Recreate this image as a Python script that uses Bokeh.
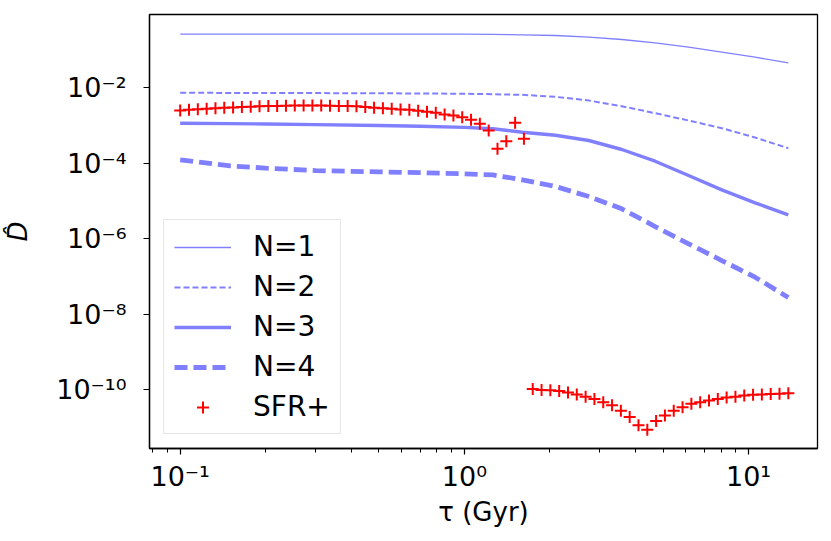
from bokeh.plotting import figure
from bokeh.models import Range1d, FixedTicker, CustomJSTickFormatter, Legend
from bokeh.embed import file_html
from bokeh.resources import INLINE

# ---- data ----
tau_line = [0.1, 0.15, 0.2, 0.3, 0.5, 0.7, 1.0, 1.26, 1.6, 2.09, 2.74, 3.58, 4.69, 6.15, 8.05, 10.54, 13.8]
d_n1 = [0.2642, 0.2642, 0.2642, 0.2642, 0.2642, 0.2642, 0.2636, 0.2600, 0.2541,
        0.2438, 0.2198, 0.1910, 0.1560, 0.1194, 0.0879, 0.0647, 0.0460]
d_n2 = [7.362e-3, 7.328e-3, 7.295e-3, 7.244e-3, 7.161e-3, 7.079e-3, 6.934e-3, 6.761e-3, 6.516e-3,
        5.768e-3, 4.603e-3, 3.251e-3, 2.123e-3, 1.358e-3, 8.492e-4, 4.808e-4, 2.506e-4]
d_n3 = [1.148e-3, 1.122e-3, 1.096e-3, 1.059e-3, 1.000e-3, 9.55e-4, 8.913e-4, 8.222e-4, 6.653e-4,
        5.534e-4, 4.009e-4, 2.312e-4, 1.132e-4, 4.721e-5, 1.972e-5, 8.913e-6, 4.285e-6]
d_n4 = [1.230e-4, 8.511e-5, 7.413e-5, 6.383e-5, 5.888e-5, 5.623e-5, 5.248e-5, 4.898e-5, 3.631e-5,
        2.415e-5, 1.309e-5, 6.180e-6, 2.099e-6, 7.295e-7, 2.630e-7, 9.506e-8, 2.754e-8]

tau_sfr = [0.1, 0.1074, 0.11535, 0.12389, 0.13306, 0.14291, 0.15349, 0.16485, 0.17705, 0.19016,
           0.20423, 0.21935, 0.23559, 0.25303, 0.27176, 0.29187, 0.31348, 0.33668, 0.3616, 0.38837,
           0.41712, 0.44799, 0.48115, 0.51677, 0.55502, 0.5961, 0.64022, 0.68762, 0.73851, 0.79318,
           0.85189, 0.91495, 0.98269, 1.05543, 1.13355, 1.21746, 1.30758, 1.40437, 1.50833, 1.61998,
           1.73989, 1.8687, 2.0069, 2.1555, 2.315, 2.4863, 2.6704, 2.868, 3.0803, 3.3083,
           3.5532, 3.8162, 4.0986, 4.402, 4.7278, 5.0777, 5.4535, 5.8573, 6.2907, 6.7563,
           7.2564, 7.7935, 8.3703, 8.9899, 9.6555, 10.371, 11.138, 11.963, 12.848, 13.8]
d_sfr = [2.512e-3, 2.600e-3, 2.692e-3, 2.786e-3, 2.884e-3, 2.951e-3, 3.020e-3, 3.090e-3, 3.162e-3, 3.236e-3,
         3.273e-3, 3.311e-3, 3.350e-3, 3.388e-3, 3.388e-3, 3.388e-3, 3.388e-3, 3.350e-3, 3.311e-3, 3.273e-3,
         3.236e-3, 3.090e-3, 2.951e-3, 2.884e-3, 2.773e-3, 2.655e-3, 2.606e-3, 2.455e-3, 2.307e-3, 2.173e-3,
         1.959e-3, 1.841e-3, 1.660e-3, 1.413e-3, 1.109e-3, 7.36e-4, 2.41e-4, 3.84e-4, 1.180e-3, 4.44e-4,
         1.023e-10, 9.77e-11, 9.55e-11, 9.12e-11, 8.32e-11, 7.41e-11, 6.46e-11, 5.62e-11, 4.57e-11, 3.80e-11,
         2.75e-11, 1.86e-11, 1.12e-11, 8.51e-12, 1.45e-11, 2.04e-11, 2.75e-11, 3.39e-11, 4.17e-11, 4.57e-11,
         5.13e-11, 5.62e-11, 6.17e-11, 6.46e-11, 6.92e-11, 7.24e-11, 7.41e-11, 7.59e-11, 7.76e-11, 7.94e-11]

x_major = [0.1, 1.0, 10.0]
x_minor = [0.08, 0.09, 0.2, 0.3, 0.4, 0.5, 0.6, 0.7, 0.8, 0.9, 2, 3, 4, 5, 6, 7, 8, 9]
y_major = [1e-10, 1e-8, 1e-6, 1e-4, 1e-2]

FONT = "DejaVu Sans"
BLUE = "#8080ff"

p = figure(width=823, height=533, x_axis_type="log", y_axis_type="log",
           x_range=Range1d(0.07798, 17.48), y_range=Range1d(2.725e-12, 0.8787),
           output_backend="svg", toolbar_location=None,
           min_border_left=148, min_border_right=6, min_border_top=14, min_border_bottom=85)

p.xgrid.visible = False
p.ygrid.visible = False
p.outline_line_color = "black"
p.outline_line_width = 1.3
p.background_fill_color = "white"
p.border_fill_color = "white"

fmt = CustomJSTickFormatter(code="""
const sup = {"-":"\u207b","0":"\u2070","1":"\u00b9","2":"\u00b2","3":"\u00b3","4":"\u2074",
             "5":"\u2075","6":"\u2076","7":"\u2077","8":"\u2078","9":"\u2079"};
const e = Math.round(Math.log10(tick));
return "10" + String(e).split("").map(c => sup[c]).join("");
""")

for ax in (p.xaxis[0], p.yaxis[0]):
    ax.formatter = fmt
    ax.major_label_text_font = FONT
    ax.major_label_text_font_size = "27px"
    ax.major_label_text_color = "black"
    ax.axis_label_text_font = FONT
    ax.axis_label_text_font_size = "26px"
    ax.axis_label_text_color = "black"
    ax.axis_label_text_font_style = "normal"
    ax.major_tick_in = 0
    ax.major_tick_out = 6
    ax.minor_tick_in = 0
    ax.minor_tick_out = 4
    ax.major_tick_line_width = 1.2
    ax.minor_tick_line_width = 1.0
    ax.axis_line_width = 1.3
    ax.axis_line_color = "black"
    ax.major_tick_line_color = "black"
    ax.minor_tick_line_color = "black"

p.xaxis[0].ticker = FixedTicker(ticks=x_major, minor_ticks=x_minor)
p.yaxis[0].ticker = FixedTicker(ticks=y_major, minor_ticks=[])
p.xaxis[0].axis_label = "τ (Gyr)"
p.yaxis[0].axis_label = "D\u0302"
p.yaxis[0].axis_label_text_font_style = "italic"
p.xaxis[0].major_label_standoff = 6
p.yaxis[0].major_label_standoff = 17
p.xaxis[0].axis_label_standoff = 2
p.yaxis[0].axis_label_standoff = 20

r1 = p.line(tau_line, d_n1, line_color=BLUE, line_width=1.3)
r2 = p.line(tau_line, d_n2, line_color=BLUE, line_width=2, line_dash="6 3")
r3 = p.line(tau_line, d_n3, line_color=BLUE, line_width=3.4)
r4 = p.line(tau_line, d_n4, line_color=BLUE, line_width=4.8, line_dash="13 6")
r5 = p.scatter(tau_sfr, d_sfr, marker="cross", size=12, line_color="red", line_width=2)

legend = Legend(items=[("N=1", [r1]), ("N=2", [r2]), ("N=3", [r3]), ("N=4", [r4]), ("SFR+", [r5])],
                location=(14, 14))
legend.label_text_font = FONT
legend.label_text_font_size = "28px"
legend.label_text_color = "black"
legend.glyph_width = 57
legend.glyph_height = 30
legend.label_height = 30
legend.label_standoff = 22
legend.spacing = 7
legend.padding = 10
legend.margin = 0
legend.border_line_color = "#cccccc"
legend.border_line_width = 1.3
legend.background_fill_color = "white"
legend.background_fill_alpha = 0.8
p.add_layout(legend, "center")

open("out.html", "w").write(file_html(p, INLINE))
